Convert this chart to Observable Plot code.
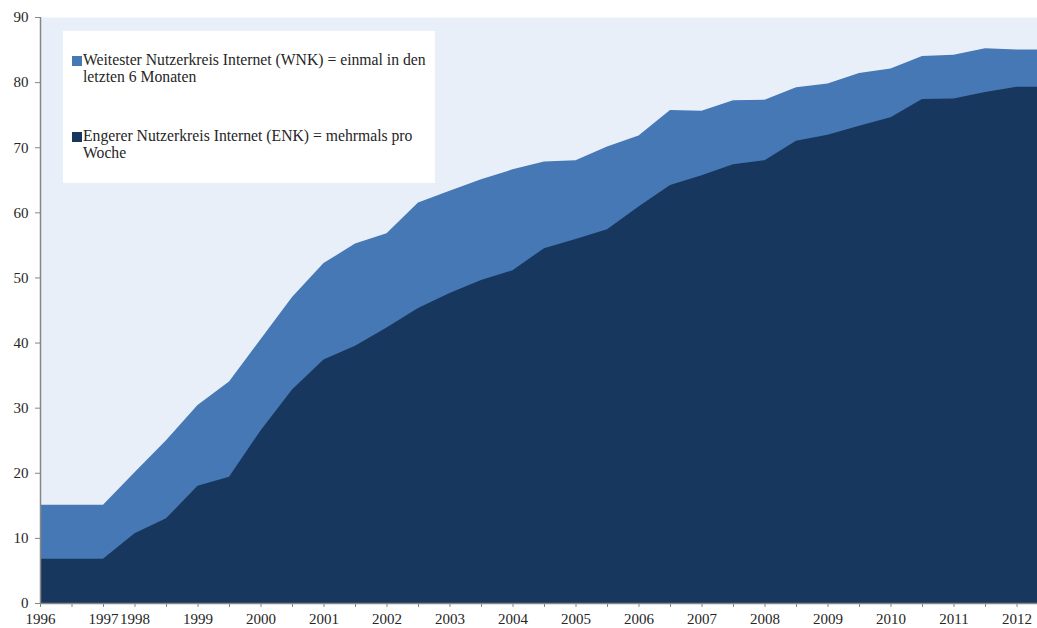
<!DOCTYPE html>
<html>
<head>
<meta charset="utf-8">
<script src="https://cdn.jsdelivr.net/npm/d3@7"></script>
<script src="https://cdn.jsdelivr.net/npm/@observablehq/plot@0.6"></script>
<style>
  body { margin: 0; background: #ffffff; }
  #wrap { position: relative; width: 1037px; height: 628px; font-family: "Liberation Serif", "DejaVu Serif", serif; }
  #legend { position: absolute; left: 63px; top: 31px; width: 372px; height: 152px; background: #ffffff; }
  .item { position: absolute; left: 9px; font-size: 15.7px; line-height: 17px; color: #262626; white-space: nowrap; }
  .item .sw { position: absolute; left: 0; top: 5px; width: 10px; height: 10px; }
  .item .tx { position: absolute; left: 11px; top: 0; }
</style>
</head>
<body>
<div id="wrap"></div>
<script>
// Period categories (half-year steps, blank = unlabeled category)
const periods = ["1996","","1997","1998","","1999","","2000","","2001","","2002","","2003","","2004","","2005","","2006","","2007","","2008","","2009","","2010","","2011","","2012",""];
// Weitester Nutzerkreis (WNK), percent
const wnk = [15.1,15.1,15.1,20.1,25.0,30.4,34.0,40.5,47.0,52.2,55.2,56.8,61.5,63.3,65.1,66.6,67.8,68.0,70.1,71.8,75.7,75.6,77.2,77.3,79.2,79.8,81.4,82.1,84.0,84.2,85.2,85.0,85.0];
// Engerer Nutzerkreis (ENK), percent
const enk = [6.8,6.8,6.8,10.7,13.0,18.0,19.4,26.5,32.8,37.4,39.5,42.3,45.3,47.6,49.6,51.1,54.5,55.9,57.4,60.9,64.2,65.7,67.4,68.0,71.0,71.9,73.3,74.6,77.4,77.5,78.5,79.3,79.3];
const yTicks = [0,10,20,30,40,50,60,70,80,90];
const seriesNames = [
  ["Weitester Nutzerkreis Internet (WNK) = einmal in den", "letzten 6 Monaten"],
  ["Engerer Nutzerkreis Internet (ENK) = mehrmals pro", "Woche"]
];
const colors = ["#4678B5", "#17375E"];
const bgColor = "#E8EFF8";
const axisColor = "#868686";

const data = periods.map((p, i) => ({i, p, wnk: wnk[i], enk: enk[i]}));
const lastIdx = periods.length - 2; // last labeled category
const catIdx = d3.range(0, lastIdx + 1);
const labelIdx = catIdx.filter(i => periods[i] !== "");

const chart = Plot.plot({
  width: 1037,
  height: 628,
  marginLeft: 40,
  marginRight: 0,
  marginTop: 17,
  marginBottom: 25,
  style: {fontFamily: "Liberation Serif, DejaVu Serif, serif", fontSize: "15px", color: "#262626", background: "#ffffff"},
  x: {domain: [0, lastIdx + 0.65]},
  y: {domain: [0, 90]},
  marks: [
    Plot.frame({fill: bgColor, stroke: null}),
    Plot.areaY(data, {x: "i", y: "wnk", fill: colors[0], clip: true}),
    Plot.areaY(data, {x: "i", y: "enk", fill: colors[1], clip: true}),
    Plot.ruleX([0], {stroke: axisColor, strokeWidth: 1.5}),
    Plot.ruleY([0], {stroke: axisColor, strokeWidth: 1.5}),
    Plot.axisY({ticks: yTicks, tickSize: 5, tickPadding: 7, stroke: axisColor, label: null, fill: "#262626"}),
    Plot.axisX({ticks: catIdx, tickSize: 4, tickFormat: () => "", stroke: axisColor, label: null}),
    Plot.axisX({ticks: labelIdx, tickSize: 0, tickPadding: 10, tickFormat: i => periods[i], label: null, fill: "#262626"})
  ]
});

const wrap = document.getElementById("wrap");
wrap.appendChild(chart);

const legend = document.createElement("div");
legend.id = "legend";
const tops = [20, 96];
seriesNames.forEach((lines, k) => {
  const it = document.createElement("div");
  it.className = "item";
  it.style.top = tops[k] + "px";
  const sw = document.createElement("div");
  sw.className = "sw";
  sw.style.background = colors[k];
  const tx = document.createElement("div");
  tx.className = "tx";
  tx.innerHTML = lines.join("<br>");
  it.appendChild(sw);
  it.appendChild(tx);
  legend.appendChild(it);
});
wrap.appendChild(legend);
</script>
</body>
</html>
